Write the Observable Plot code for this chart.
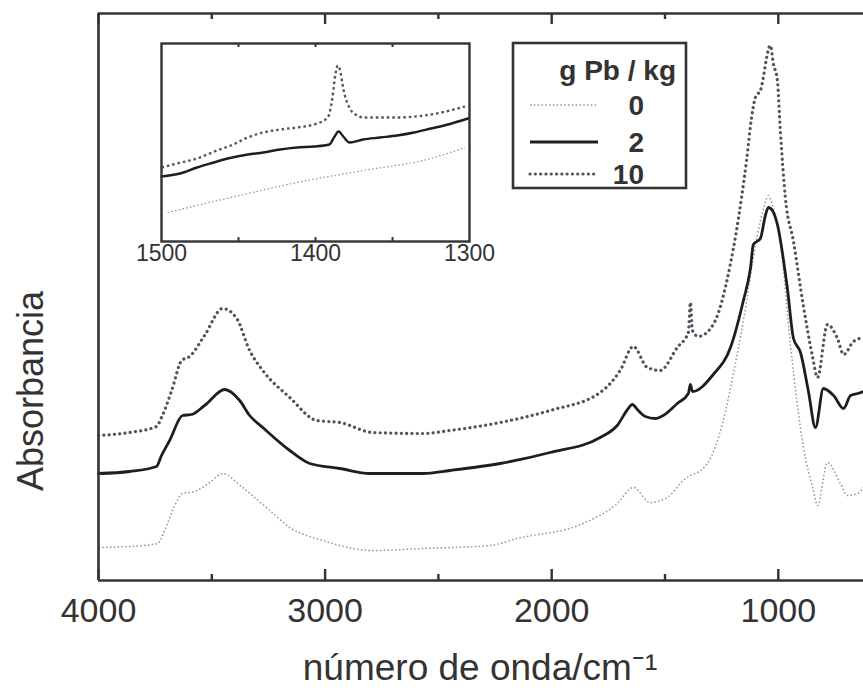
<!DOCTYPE html>
<html><head><meta charset="utf-8">
<script src="https://cdn.jsdelivr.net/npm/d3@7"></script>
<script src="https://cdn.jsdelivr.net/npm/@observablehq/plot@0.6"></script>
<style>
html,body{margin:0;padding:0;background:#fff;}
#wrap{position:relative;width:863px;height:688px;overflow:hidden;background:#fff;}
#wrap svg{position:absolute;}
</style></head><body><div id="wrap"></div>
<script>
// ---- data (wavenumber cm-1, absorbance in arbitrary units) ----
const seriesNames = ["0", "2", "10"];
const legendTitle = "g Pb / kg";
const xTitle = "número de onda/cm⁻¹";
const yTitle = "Absorbancia";

const wn0 = [4000,3863,3739,3708,3664,3629,3576,3509,3452,3364,3244,3156,3010,2789,2568,2272,2153,1861,1711,1640,1565,1490,1420,1313,1243,1198,1154,1092,1061,1044,1026,991,946,889,845,827,783,726,695,650,624];
const abs0 = [0.33,0.34,0.37,0.50,0.75,0.87,0.89,0.98,1.07,0.93,0.70,0.53,0.40,0.30,0.32,0.35,0.42,0.57,0.77,0.93,0.78,0.83,1.00,1.17,1.60,2.07,2.60,3.46,3.75,3.85,3.75,3.39,2.35,1.33,0.90,0.75,1.18,0.97,0.85,0.87,0.93];

const wn2 = [4000,3863,3744,3722,3686,3629,3589,3532,3443,3377,3333,3275,3156,3068,2935,2802,2568,2449,2228,2007,1786,1711,1662,1645,1618,1587,1543,1508,1446,1397,1388,1379,1287,1211,1154,1123,1110,1079,1057,1044,1026,1004,960,933,902,867,836,801,756,712,681,650,624];
const abs2 = [1.07,1.09,1.14,1.25,1.40,1.65,1.66,1.75,1.91,1.80,1.65,1.53,1.30,1.17,1.12,1.07,1.07,1.10,1.17,1.28,1.43,1.55,1.72,1.76,1.70,1.64,1.62,1.65,1.77,1.87,1.96,1.89,2.06,2.33,2.80,3.12,3.36,3.42,3.65,3.73,3.70,3.56,2.92,2.42,2.28,1.89,1.53,1.92,1.85,1.72,1.85,1.87,1.89];

const wn10 = [4000,3863,3744,3722,3677,3633,3598,3532,3452,3390,3333,3275,3156,3037,2935,2789,2568,2449,2228,2007,1786,1698,1640,1578,1521,1446,1397,1388,1379,1353,1287,1211,1162,1140,1118,1101,1079,1035,1022,1004,991,969,933,889,849,827,783,739,712,668,637,624];
const abs10 = [1.45,1.48,1.54,1.63,1.90,2.20,2.24,2.45,2.72,2.62,2.30,2.10,1.83,1.60,1.58,1.48,1.47,1.50,1.58,1.70,1.88,2.10,2.34,2.13,2.10,2.33,2.48,2.78,2.50,2.44,2.56,3.17,3.83,4.20,4.63,4.83,4.90,5.35,5.17,5.00,4.50,3.83,3.39,2.74,2.24,2.03,2.56,2.42,2.26,2.39,2.42,2.40];

// inset (1500-1300 cm-1), own arbitrary absorbance scale
const insetWn0 = [1496,1455,1412,1369,1325,1303];
const insetAbs0 = [0.29,0.44,0.59,0.71,0.83,0.94];
const insetWn2 = [1500,1488,1477,1466,1457,1444,1434,1423,1412,1401,1391,1388,1385,1382,1378,1369,1358,1347,1336,1325,1314,1301];
const insetAbs2 = [0.65,0.68,0.74,0.79,0.83,0.87,0.89,0.92,0.94,0.95,0.97,1.04,1.10,1.05,0.99,1.02,1.04,1.06,1.09,1.13,1.17,1.23];
const insetWn10 = [1500,1490,1477,1464,1455,1444,1434,1423,1412,1399,1392,1389,1387,1385.5,1384,1382,1378,1373,1369,1347,1325,1303];
const insetAbs10 = [0.74,0.78,0.83,0.91,0.96,1.04,1.09,1.12,1.14,1.18,1.24,1.44,1.68,1.76,1.71,1.53,1.34,1.26,1.24,1.24,1.27,1.35];

const mainTickLabels = [4000, 3000, 2000, 1000];
const mainMinorTicks = [3500, 2500, 1500];
const insetTickLabels = [1500, 1400, 1300];
const insetMinorTicks = [1450, 1400, 1350];

const xDomain = [4000, 624];
const yDomain = [0, 5.67];
const insetXDomain = [1500, 1300];
const insetYDomain = [0, 1.98];

// ---- styles ----
const FONT = "'Liberation Sans', Arial, Helvetica, sans-serif";
const INK = "#333";
const styles = {
  "0":  {stroke: "#8d9aa7", strokeWidth: 1.5, strokeDasharray: "1.6,2.2", strokeLinecap: "butt"},
  "2":  {stroke: "#1e1e1e", strokeWidth: 2.8},
  "10": {stroke: "#4d5560", strokeWidth: 3.2, strokeDasharray: "0.1,5.2", strokeLinecap: "round"}
};

const toRows = (wn, a) => wn.map((w, i) => ({wn: w, a: a[i]}));
const mainData = {"0": toRows(wn0, abs0), "2": toRows(wn2, abs2), "10": toRows(wn10, abs10)};
const insetData = {"0": toRows(insetWn0, insetAbs0), "2": toRows(insetWn2, insetAbs2), "10": toRows(insetWn10, insetAbs10)};

const wrap = document.getElementById("wrap");

// ---- main chart ----
const main = Plot.plot({
  width: 863, height: 688,
  marginLeft: 98, marginRight: 0, marginTop: 13, marginBottom: 108,
  x: {domain: xDomain, axis: null},
  y: {domain: yDomain, axis: null},
  style: {background: "transparent", fontFamily: FONT, color: INK, overflow: "visible"},
  marks: [
    ...seriesNames.map(s => Plot.line(mainData[s], {x: "wn", y: "a", curve: "monotone-x", strokeLinejoin: "round", ...styles[s]})),
    Plot.ruleY([yDomain[0]], {stroke: INK, strokeWidth: 2.6}),
    Plot.ruleY([yDomain[1]], {stroke: INK, strokeWidth: 2.6}),
    Plot.ruleX([xDomain[0]], {stroke: INK, strokeWidth: 2.6}),
    Plot.ruleX(mainTickLabels, {x: d => d, y1: 0, y2: 0.11, stroke: INK, strokeWidth: 2.4}),
    Plot.ruleX(mainMinorTicks, {x: d => d, y1: 0, y2: 0.06, stroke: INK, strokeWidth: 2.4}),
    Plot.ruleX(mainTickLabels, {x: d => d, y1: 5.67, y2: 5.56, stroke: INK, strokeWidth: 2.4}),
    Plot.ruleX(mainMinorTicks, {x: d => d, y1: 5.67, y2: 5.61, stroke: INK, strokeWidth: 2.4}),
    Plot.axisX(mainTickLabels, {tickSize: 0, tickPadding: 17, fontSize: 34, tickFormat: d => String(d), label: null, fill: INK})
  ]
});
wrap.appendChild(main);
main.style.left = "0px"; main.style.top = "0px";

const ms = d3.select(main);
ms.append("text")
  .attr("x", 480).attr("y", 680)
  .attr("text-anchor", "middle")
  .attr("font-family", FONT).attr("font-size", 37).attr("fill", INK)
  .text(xTitle);

ms.append("text")
  .attr("transform", "translate(43,391) rotate(-90)")
  .attr("text-anchor", "middle")
  .attr("font-family", FONT).attr("font-size", 36).attr("fill", INK)
  .text(yTitle);

// ---- inset ----
const inset = Plot.plot({
  width: 370, height: 245,
  marginLeft: 31, marginRight: 31, marginTop: 13, marginBottom: 34,
  x: {domain: insetXDomain, axis: null},
  y: {domain: insetYDomain, axis: null},
  style: {background: "transparent", fontFamily: FONT, color: INK, overflow: "visible"},
  marks: [
    ...seriesNames.map(s => Plot.line(insetData[s], {x: "wn", y: "a", curve: "monotone-x", strokeLinejoin: "round", ...styles[s],
       strokeWidth: s === "0" ? 1.2 : 2.4, strokeDasharray: s === "10" ? "2.5,3" : styles[s].strokeDasharray, strokeLinecap: s === "10" ? "butt" : styles[s].strokeLinecap})),
    Plot.frame({stroke: INK, strokeWidth: 2.4}),
    Plot.ruleX(insetMinorTicks, {x: d => d, y1: 0, y2: 0.04, stroke: INK, strokeWidth: 2}),
    Plot.ruleX(insetMinorTicks, {x: d => d, y1: 1.98, y2: 1.94, stroke: INK, strokeWidth: 2}),
    Plot.axisX(insetTickLabels, {tickSize: 0, tickPadding: 3, fontSize: 23, tickFormat: d => String(d), label: null, fill: INK})
  ]
});
wrap.appendChild(inset);
inset.style.left = "130px"; inset.style.top = "30px";

// ---- legend ----
const leg = d3.create("svg").attr("width", 200).attr("height", 170)
  .style("left", "505px").style("top", "35px").style("position", "absolute");
leg.append("rect").attr("x", 8).attr("y", 8).attr("width", 173).attr("height", 145)
  .attr("fill", "#fff").attr("stroke", INK).attr("stroke-width", 2.6);
leg.append("text").attr("x", 171).attr("y", 45).attr("text-anchor", "end")
  .attr("font-family", FONT).attr("font-weight", "bold").attr("font-size", 28).attr("fill", INK)
  .text(legendTitle);
const legY = [70, 107, 139];
seriesNames.forEach((s, i) => {
  const st = styles[s];
  leg.append("line").attr("x1", 25).attr("x2", 93).attr("y1", legY[i]).attr("y2", legY[i])
    .attr("stroke", st.stroke).attr("stroke-width", st.strokeWidth)
    .attr("stroke-dasharray", st.strokeDasharray || null)
    .attr("stroke-linecap", st.strokeLinecap || "butt");
  leg.append("text").attr("x", 139).attr("y", legY[i] + 10).attr("text-anchor", "end")
    .attr("font-family", FONT).attr("font-weight", "bold").attr("font-size", 28).attr("fill", INK)
    .text(s);
});
wrap.appendChild(leg.node());
</script>
</body></html>
